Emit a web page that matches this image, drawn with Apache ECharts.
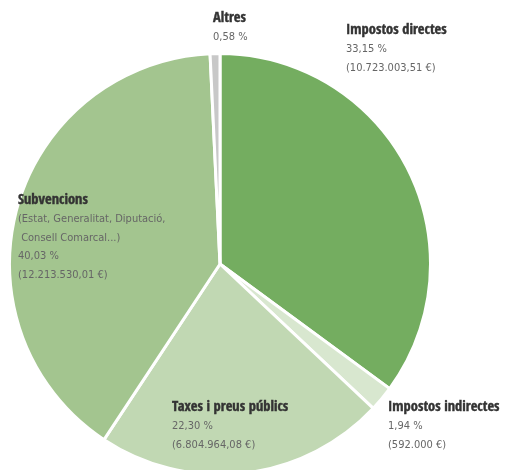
<!DOCTYPE html>
<html><head><meta charset="utf-8">
<script src="https://cdn.jsdelivr.net/npm/echarts@6/dist/echarts.min.js"></script>
<style>html,body{margin:0;padding:0;background:#fff}#c{width:505px;height:470px}</style>
</head><body><div id="c"></div>
<script>
const categories = ['Impostos directes', 'Impostos indirectes', 'Taxes i preus públics', 'Subvencions', 'Altres'];
// slice sizes (euros; Altres)
const amounts = [10723003.51, 592000, 6804964.08, 12213530.01, 230000];
const percentLabels = ['33,15 %', '1,94 %', '22,30 %', '40,03 %', '0,58 %'];
const amountLabels = ['(10.723.003,51 €)', '(592.000 €)', '(6.804.964,08 €)', '(12.213.530,01 €)', ''];
const notes = ['', '', '', '(Estat, Generalitat, Diputació,\n Consell Comarcal...)', ''];
const colors = ['#74ad60', '#d8e7cf', '#c1d8b3', '#a3c58f', '#c8c8c8'];
const labelPos = [[346, 21], [388, 398], [172, 398], [18, 191], [213, 9]];

const chart = echarts.init(document.getElementById('c'));
const TFONT = '"Open Sans Condensed", "DejaVu Sans Condensed", sans-serif';
const VFONT = '"DejaVu Sans Condensed", "Open Sans Condensed", sans-serif';
chart.setOption({
  animation: false,
  series: [{
    type: 'pie',
    center: [220, 264],
    radius: [0, 210.5],
    startAngle: 90,
    clockwise: true,
    avoidLabelOverlap: false,
    itemStyle: { borderColor: '#fff', borderWidth: 3 },
    label: {
      show: true,
      position: 'outside',
      overflow: 'none',
      fontFamily: VFONT,
      formatter: p => {
        const i = p.dataIndex;
        const parts = ['{t|' + categories[i] + '}'];
        if (notes[i]) notes[i].split('\n').forEach(s => parts.push('{v|' + s + '}'));
        parts.push('{v|' + percentLabels[i] + '}');
        if (amountLabels[i]) parts.push('{v|' + amountLabels[i] + '}');
        return parts.join('\n');
      },
      rich: {
        t: { fontFamily: TFONT, fontWeight: 'bold', fontSize: 14.5, color: '#333', lineHeight: 19, textBorderColor: '#333', textBorderWidth: 0.4 },
        v: { fontFamily: VFONT, fontWeight: 'normal', fontSize: 11, color: '#666', lineHeight: 18.5 }
      }
    },
    labelLine: { show: false },
    labelLayout: p => ({ x: labelPos[p.dataIndex][0], y: labelPos[p.dataIndex][1], align: 'left', verticalAlign: 'top', hideOverlap: false }),
    data: categories.map((c, i) => ({ name: c, value: amounts[i], itemStyle: { color: colors[i] } }))
  }]
});
</script></body></html>
